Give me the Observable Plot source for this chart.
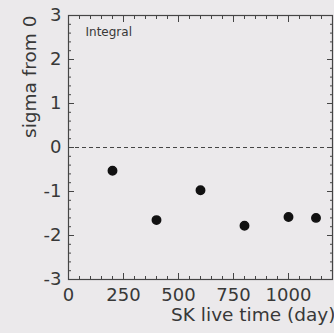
<!DOCTYPE html>
<html><head><meta charset="utf-8">
<script src="https://cdn.jsdelivr.net/npm/d3@7"></script>
<script src="https://cdn.jsdelivr.net/npm/@observablehq/plot@0.6"></script>
<style>
html,body{margin:0;padding:0;background:#ebe9eb;}
#chart{width:334px;height:333px;}
</style></head><body><div id="chart"></div>
<script>
const liveTime = [200, 400, 600, 800, 1000, 1125];
const sigma = [-0.53, -1.65, -0.97, -1.78, -1.58, -1.6];
const xMajorTicks = [0, 250, 500, 750, 1000];
const xMinorTicks = d3.range(0, 1201, 50);
const yMajorTicks = [-3, -2, -1, 0, 1, 2, 3];
const yMinorTicks = d3.range(-3, 3.001, 0.2).map(v => Math.round(v * 10) / 10);
const panelLabel = "Integral";
const xTitle = "SK live time (day)";
const yTitle = "sigma from 0";

const data = liveTime.map((t, i) => ({t, s: sigma[i]}));
const font = "DejaVu Sans, sans-serif";
const ink = "#454545";
const textInk = "#383838";

const chart = Plot.plot({
  width: 334, height: 333,
  marginTop: 15, marginBottom: 54, marginLeft: 68, marginRight: 2,
  style: {background: "#ebe9eb", fontFamily: font, color: ink, overflow: "visible"},
  x: {domain: [0, 1200]},
  y: {domain: [-3, 3]},
  marks: [
    Plot.frame({stroke: ink, strokeWidth: 1.2}),
    // inward tick marks on all four sides
    Plot.axisX({anchor: "bottom", ticks: xMinorTicks, tickSize: -3, tickFormat: () => "", label: null, stroke: ink}),
    Plot.axisX({anchor: "top", ticks: xMinorTicks, tickSize: -3, tickFormat: () => "", label: null, stroke: ink}),
    Plot.axisX({anchor: "bottom", ticks: xMajorTicks, tickSize: -6, tickFormat: () => "", label: null, stroke: ink}),
    Plot.axisX({anchor: "top", ticks: xMajorTicks, tickSize: -6, tickFormat: () => "", label: null, stroke: ink}),
    Plot.axisY({anchor: "left", ticks: yMinorTicks, tickSize: -3, tickFormat: () => "", label: null, stroke: ink}),
    Plot.axisY({anchor: "right", ticks: yMinorTicks, tickSize: -3, tickFormat: () => "", label: null, stroke: ink}),
    Plot.axisY({anchor: "left", ticks: yMajorTicks, tickSize: -6, tickFormat: () => "", label: null, stroke: ink}),
    Plot.axisY({anchor: "right", ticks: yMajorTicks, tickSize: -6, tickFormat: () => "", label: null, stroke: ink}),
    // tick labels
    Plot.axisX({anchor: "bottom", ticks: xMajorTicks, tickSize: 0, tickPadding: 9, fontSize: 18, tickFormat: d => String(d), label: null, fill: textInk}),
    Plot.axisY({anchor: "left", ticks: yMajorTicks, tickSize: 0, tickPadding: 7, fontSize: 18, tickFormat: d => String(d), label: null, fill: textInk}),
    // axis titles
    Plot.text([xTitle], {frameAnchor: "bottom-right", dx: 3, dy: 41, fontSize: 18.5, fill: textInk, textAnchor: "end"}),
    Plot.text([yTitle], {frameAnchor: "top-left", dx: -46, dy: 0, rotate: -90, fontSize: 18.5, fill: textInk, textAnchor: "end"}),
    Plot.ruleY([0], {stroke: ink, strokeDasharray: "4,3", strokeWidth: 1}),
    Plot.dot(data, {x: "t", y: "s", r: 4.2, fill: "#111", stroke: "#111"}),
    Plot.text([panelLabel], {frameAnchor: "top-left", dx: 17, dy: 12, fontSize: 12, fill: textInk, textAnchor: "start"})
  ]
});
document.getElementById("chart").appendChild(chart);
</script></body></html>
